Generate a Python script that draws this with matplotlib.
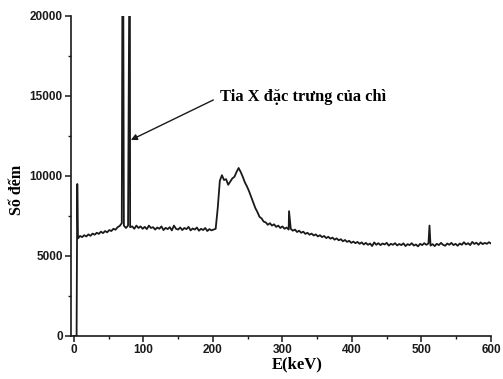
import numpy as np
import matplotlib
matplotlib.use("Agg")
from matplotlib import pyplot as plt

# spectrum, one reading every 3 keV from 6 to 600 keV
energy = np.arange(6, 601, 3)
counts = [
    6100, 6250, 6180, 6300, 6220, 6350, 6260, 6400, 6330, 6450, 6380, 6520, 6430, 6560, 6480, 6620, 6560, 6700, 6640,
    6800, 6880, 7050,
    6900, 6750, 6900, 6800, 6850, 6700, 6900,
    6750, 6850, 6700, 6820, 6680, 6900, 6750, 6800, 6650, 6780, 6700, 6850, 6620, 6760, 6680, 6800, 6600, 6900, 6700,
    6650, 6780, 6620, 6750, 6680, 6820, 6600, 6720, 6650, 6780, 6580, 6700, 6620, 6750, 6560, 6680, 6600, 6650,
    6700, 8000, 9700, 10050, 9750, 9800, 9450, 9650, 9850, 9950, 10250, 10500, 10250, 9950, 9600, 9350, 9050, 8700,
    8350, 8000, 7750, 7450, 7350, 7150, 7100, 6950, 7050,
    6900, 6980, 6820, 6900, 6750, 6850, 6700, 6780, 6650, 6700, 6580, 6650, 6500, 6580, 6450, 6520, 6380, 6450, 6330,
    6400, 6280, 6350, 6220,
    6300, 6180, 6250, 6120, 6200, 6080, 6150, 6020, 6100, 5980, 6050, 5920, 6000, 5880, 5950, 5820, 5900, 5800, 5880,
    5760, 5850, 5720, 5820, 5700, 5780, 5620,
    5850, 5700, 5800, 5680, 5780, 5720, 5820, 5650, 5760, 5700, 5800, 5660, 5750, 5680, 5790, 5620, 5740, 5680, 5800,
    5650, 5720, 5600, 5760, 5680, 5800, 5700, 5780, 5650, 5740, 5620, 5760, 5680, 5820, 5700, 5640, 5780, 5700, 5820,
    5680, 5760, 5640, 5780, 5700, 5860, 5720, 5800, 5680, 5880, 5750, 5830, 5700, 5850, 5740, 5820, 5760, 5860, 5780,
]

# narrow lines (Pb X-rays etc.) and the start of the spectrum
spike_e = [0, 4, 5, 70.5, 80.5, 309.5, 511.5]
spike_c = [0, 0, 9500, 32000, 28000, 7800, 6900]

x = np.concatenate([energy, spike_e])
y = np.concatenate([counts, spike_c])
order = np.argsort(x, kind="stable")
x, y = x[order], y[order]

plt.rcParams["font.family"] = ["Liberation Sans", "DejaVu Sans"]

fig = plt.figure(figsize=(5.03, 3.79), dpi=100)
ax = fig.add_axes([0.1412, 0.1135, 0.835, 0.8443])

ax.plot(x, y, color="#1a1a1a", lw=1.3)

ax.set_xlim(-4, 600)
ax.set_ylim(0, 20000)
ax.set_xticks([0, 100, 200, 300, 400, 500, 600])
ax.set_xticks(range(50, 600, 100), minor=True)
ax.set_yticks([0, 5000, 10000, 15000, 20000])
ax.set_yticks([2500, 7500, 12500, 17500], minor=True)

for s in ["top", "right"]:
    ax.spines[s].set_visible(False)
for s in ["left", "bottom"]:
    ax.spines[s].set_linewidth(1.2)
    ax.spines[s].set_color("#1a1a1a")

ax.tick_params(which="major", length=4, width=1.1, colors="#1a1a1a", labelsize=8.5, pad=2)
ax.tick_params(which="minor", length=2.5, width=1.0, colors="#1a1a1a")
for lab in ax.get_xticklabels() + ax.get_yticklabels():
    lab.set_fontweight("bold")

serif = ["Liberation Serif", "DejaVu Serif"]
ax.set_xlabel("E(keV)", family=serif, fontweight="bold", fontsize=12)
ax.set_ylabel("Số đếm", family=serif, fontweight="bold", fontsize=11.5)
ax.xaxis.set_label_coords(0.538, -0.065)
ax.yaxis.set_label_coords(-0.11, 0.456)

ax.annotate("Tia X đặc trưng của chì", xy=(82, 12250), xytext=(210, 14950),
            family=serif, fontweight="bold", fontsize=11.8, va="center", ha="left",
            arrowprops=dict(arrowstyle="-|>", color="#1a1a1a", lw=1.0, mutation_scale=9,
                            relpos=(0, 0.5), shrinkA=3, shrinkB=0))

fig.savefig("out.png", dpi=100)
